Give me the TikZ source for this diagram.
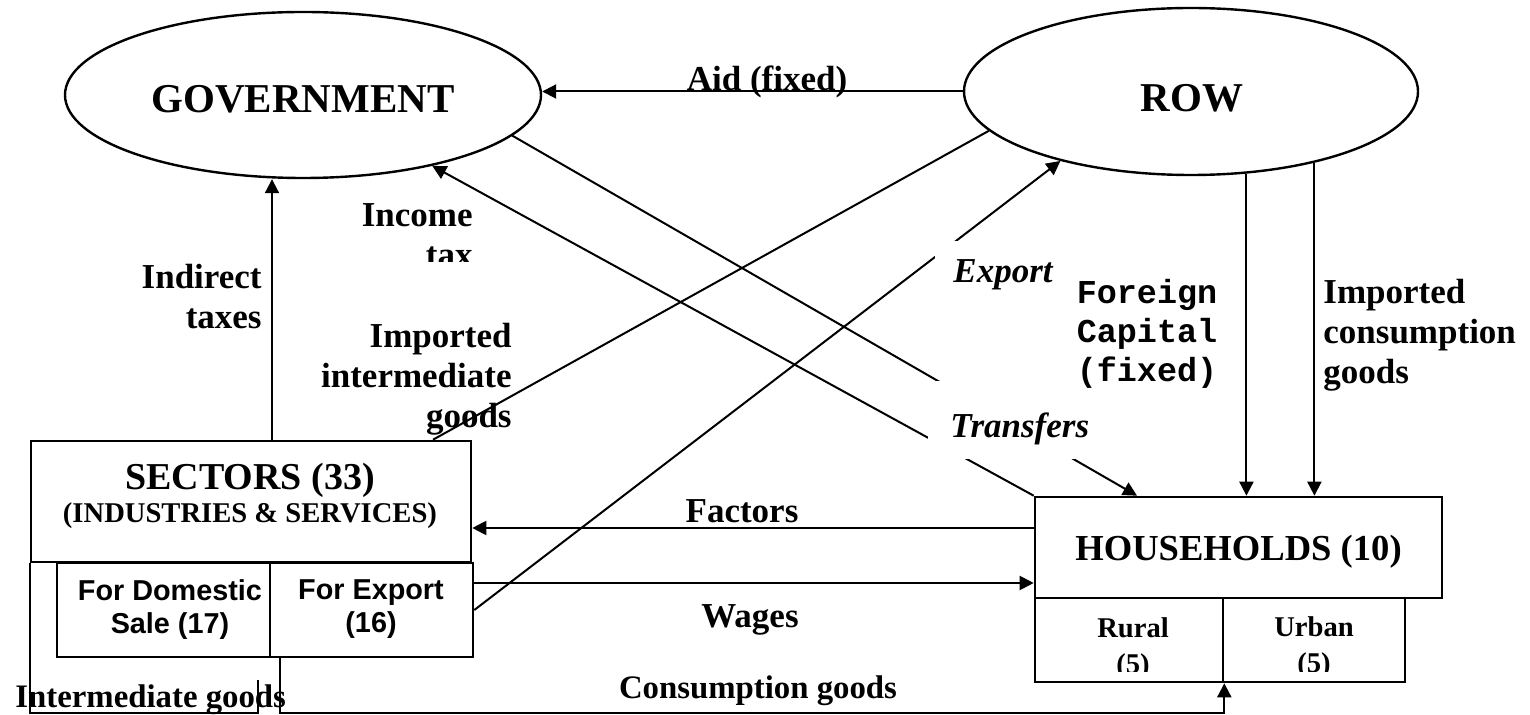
\documentclass[tikz,border=0pt]{standalone}
\usepackage{fontspec}
\setmainfont{Liberation Serif}
\setmonofont{Liberation Mono}
\newfontfamily\arialf{Liberation Sans}
\usetikzlibrary{arrows.meta,shapes.geometric}
\begin{document}
\begin{tikzpicture}[x=0.5pt,y=-0.5pt,
  ell/.style={ellipse, draw, line width=1.2pt, inner sep=0pt},
  box/.style={draw, line width=1.3pt, fill=white, inner sep=0pt},
  ln/.style={line width=1pt},
  arr/.style={ln, -{Triangle[length=7pt,width=7pt]}},
  bigtxt/.style={font=\fontsize{20.5}{24}\selectfont\bfseries, inner sep=0pt},
  lbl/.style={font=\fontsize{17.5}{20}\selectfont\bfseries, inner sep=0pt},
  ilbl/.style={font=\fontsize{17.5}{20}\selectfont\bfseries\itshape, inner sep=0pt},
  monolbl/.style={font=\fontsize{16.7}{19.5}\selectfont\ttfamily\bfseries, inner sep=0pt},
  smalltxt/.style={font=\fontsize{14.3}{18}\selectfont\bfseries, inner sep=0pt},
  sanstxt/.style={font=\fontsize{14.4}{16.5}\selectfont\arialf\bfseries, inner sep=0pt},
  bottxt/.style={font=\fontsize{16.4}{19}\selectfont\bfseries, inner sep=0pt}
]
\useasboundingbox (0,0) rectangle (1530,715);

% ellipses
\node[ell, minimum width=238pt, minimum height=83pt] (gov) at (303,95) {};
\node[ell, minimum width=227pt, minimum height=83.5pt] (row) at (1191,91.5) {};

% boxes
\node[box, minimum width=220pt, minimum height=60.5pt] (sect) at (251,501.5) {};
\node[box, minimum width=106.5pt, minimum height=47pt] (dom) at (163.5,610) {};
\node[box, minimum width=101.5pt, minimum height=47pt] (exp) at (371.5,610) {};
\node[box, minimum width=203.5pt, minimum height=50.5pt] (hh) at (1238.5,547.5) {};
\node[box, minimum width=94pt, minimum height=42pt] (rural) at (1129,640) {};
\node[box, minimum width=91pt, minimum height=42pt] (urban) at (1314,640) {};

% helper coordinates
\coordinate (itx) at (272,0);
\coordinate (trx) at (1137,0);
\coordinate (iix) at (433,0);
\coordinate (fy) at (0,528);
\coordinate (wy) at (0,583);
\coordinate (cb) at (280,713);
\coordinate (ib) at (258,680);

% connectors
\draw[arr] (row.west) -- (row.west -| gov.east);
\draw[arr] (sect.north -| itx) -- (gov.south -| itx);
\draw[arr] (hh.north west) -- (gov);
\draw[arr] (gov.-11) -- (hh.north -| trx);
\draw[ln] (row.191.4) -- (sect.north -| iix);
\draw[arr] (exp.east) -- (row.208);
\draw[arr] (row.-56.3) -- (row.-56.3 |- hh.north);
\draw[arr] (row.-30.6) -- (row.-30.6 |- hh.north);
\draw[arr] (hh.west |- fy) -- (sect.east |- fy);
\draw[arr] (exp.east |- wy) -- (hh.west |- wy);
\draw[arr] (exp.south -| cb) -- (cb) -| (rural.south east);
\draw[ln] (sect.south west) |- (ib |- cb) -- (ib);

% white label backgrounds
\fill[white] (935,241) rectangle (1070,309);
\fill[white] (928,381) rectangle (1090,459);

% texts
\node[bigtxt, anchor=base] (govt) at (303,113) {GOVERNMENT};
\node[bigtxt, anchor=base] (rowt) at (1192,112) {ROW};
\node[lbl, anchor=base] (aid) at (767,91) {Aid (fixed)};
\begin{scope}
  \clip (300,150) rectangle (520,262);
  \node[lbl, anchor=north east, align=right] (inct) at (473,203) {Income\\tax};
\end{scope}
\node[lbl, anchor=north east, align=right] (indt) at (262,264) {Indirect\\taxes};
\node[lbl, anchor=north east, align=right] (imint) at (512,323) {Imported\\intermediate\\goods};
\node[ilbl, anchor=base west] (expt) at (953,283) {Export};
\node[ilbl, anchor=base west] (trt) at (950,438) {Transfers};
\node[monolbl, anchor=north, align=center] (fct) at (1147,279) {Foreign\\Capital\\(fixed)};
\node[lbl, anchor=north west, align=left] (imct) at (1323,279) {Imported\\consumption\\goods};
\node[font=\fontsize{19}{22}\selectfont\bfseries, inner sep=0pt, anchor=base] (sectt) at (250,490) {SECTORS (33)};
\node[smalltxt, anchor=base] (indst) at (250,523) {(INDUSTRIES \& SERVICES)};
\node[sanstxt, anchor=north, align=center] (domt) at (170,579) {For Domestic\\Sale (17)};
\node[sanstxt, anchor=north, align=center] (expbt) at (371,579) {For Export\\(16)};
\node[font=\fontsize{18.3}{22}\selectfont\bfseries, inner sep=0pt, anchor=base] (hht) at (1238.5,560) {HOUSEHOLDS (10)};
\begin{scope}
  \clip (1035,598) rectangle (1442,671);
  \node[smalltxt, anchor=north, align=center] (rurt) at (1133,617) {Rural\\(5)};
  \node[smalltxt, anchor=north, align=center] (urbt) at (1314,616) {Urban\\(5)};
\end{scope}
\node[lbl, anchor=base] (fact) at (742,523) {Factors};
\node[lbl, anchor=base] (wagt) at (750,627) {Wages};
\node[bottxt, anchor=base] (cont) at (758,698) {Consumption goods};
\node[bottxt, anchor=base west] (intt) at (15,707) {Intermediate goods};
\end{tikzpicture}
\end{document}
